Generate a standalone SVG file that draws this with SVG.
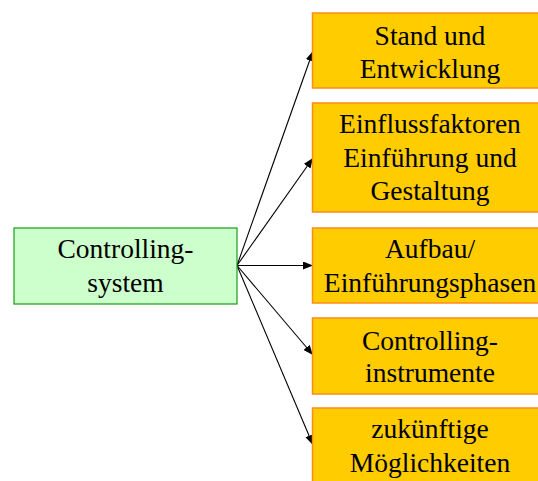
<svg xmlns="http://www.w3.org/2000/svg" width="538" height="481" viewBox="0 0 538 481">
  <style>
    text { font-family: 'Liberation Serif', Tinos, 'Noto Serif', 'DejaVu Serif', serif; font-size: 27.5px; fill: #000; text-anchor: middle; }
    .topic rect { fill: #ffcc00; stroke: #ff8c1a; stroke-width: 1.5; }
    .root rect { fill: #ccffcc; stroke: #1a9a1a; stroke-width: 1.2; }
    .conn line { stroke: #000; stroke-width: 1.1; marker-end: url(#arrow); }
  </style>
  <defs>
    <marker id="arrow" viewBox="0 0 10 8" refX="10" refY="4" markerWidth="10" markerHeight="8" markerUnits="userSpaceOnUse" orient="auto">
      <path d="M0,0 L10,4 L0,8 z" fill="#000"/>
    </marker>
  </defs>
  <rect width="538" height="481" fill="#fff"/>

  <!-- connectors from the central node -->
  <g id="connectors" class="conn">
    <line x1="237" y1="265.5" x2="313" y2="51"/>
    <line x1="237" y1="265.5" x2="313" y2="158"/>
    <line x1="237" y1="265.5" x2="313" y2="265.5"/>
    <line x1="237" y1="265.5" x2="313" y2="355"/>
    <line x1="237" y1="265.5" x2="313" y2="445"/>
  </g>

  <g id="controllingsystem" class="root">
    <rect x="14" y="228" width="223" height="76"/>
    <text x="125.5" y="258">Controlling-</text>
    <text x="125.5" y="291.5">system</text>
  </g>

  <g id="stand" class="topic">
    <rect x="312.5" y="13" width="240" height="75"/>
    <text x="430" y="44.5">Stand und</text>
    <text x="430" y="78">Entwicklung</text>
  </g>

  <g id="einflussfaktoren" class="topic">
    <rect x="312.5" y="103" width="240" height="109"/>
    <text x="430" y="133">Einflussfaktoren</text>
    <text x="430" y="166.5">Einführung und</text>
    <text x="430" y="200">Gestaltung</text>
  </g>

  <g id="aufbau" class="topic">
    <rect x="312.5" y="228" width="240" height="75"/>
    <text x="430" y="258">Aufbau/</text>
    <text x="430" y="291.5">Einführungsphasen</text>
  </g>

  <g id="instrumente" class="topic">
    <rect x="312.5" y="318" width="240" height="76"/>
    <text x="430" y="350">Controlling-</text>
    <text x="430" y="381.5">instrumente</text>
  </g>

  <g id="zukunft" class="topic">
    <rect x="312.5" y="408" width="240" height="90"/>
    <text x="430" y="438">zukünftige</text>
    <text x="430" y="471.5">Möglichkeiten</text>
  </g>
</svg>
